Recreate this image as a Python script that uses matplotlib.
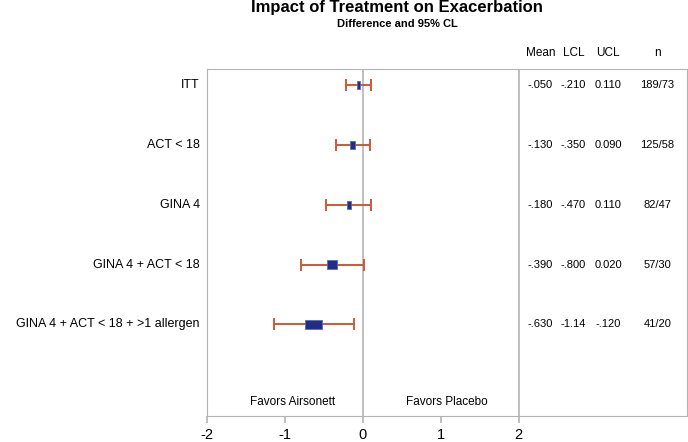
import numpy as np
import matplotlib
matplotlib.use("Agg")
import matplotlib.pyplot as plt
from matplotlib.patches import Rectangle

plt.rcParams['font.family'] = ['Liberation Sans', 'DejaVu Sans']
plt.rcParams['axes.unicode_minus'] = False

groups = ["ITT", "ACT < 18", "GINA 4", "GINA 4 + ACT < 18", "GINA 4 + ACT < 18 + >1 allergen"]
mean = [-0.05, -0.13, -0.18, -0.39, -0.63]
lcl = [-0.21, -0.35, -0.47, -0.80, -1.14]
ucl = [0.11, 0.09, 0.11, 0.02, -0.12]
n = ["189/73", "125/58", "82/47", "57/30", "41/20"]

# box widths in pixels as drawn in the original
box_px = [3, 5, 4, 10, 17]

def fmt(v):
    if v < 0 and v > -1:
        return "-" + ("%.3f" % -v)[1:]
    if v <= -1:
        return "%.2f" % v
    return "%.3f" % v

fig = plt.figure(figsize=(6.88, 4.42), dpi=100)
ax = fig.add_axes([207/688, 1-416/442, 480/688, 347/442])

xmin, xmax = -2, 2 + 168/77.8
ax.set_xlim(xmin, xmax)
ax.set_ylim(5.53, -0.27)
px_x = 77.8
px_y = 59.8

grey = '#b4b4b4'
for s in ax.spines.values():
    s.set_color(grey)
ax.axvline(0, color=grey, lw=1.2)
ax.axvline(2, color=grey, lw=1.2)

y = np.arange(len(groups))
ax.errorbar(mean, y, xerr=[np.array(mean)-np.array(lcl), np.array(ucl)-np.array(mean)],
            fmt='none', ecolor='#cc5a36', elinewidth=1.4, capsize=4.5, capthick=1.4, zorder=2)
for i in range(len(groups)):
    w = box_px[i] / px_x
    h = 8.5 / px_y
    ax.add_patch(Rectangle((mean[i]-w/2, y[i]-h/2), w, h, facecolor='#1f2f86',
                           edgecolor='#5a6ab8', lw=0.6, zorder=3))

ax.set_yticks([])
ax.set_xticks([-2, -1, 0, 1, 2])
ax.tick_params(axis='x', colors=grey, labelcolor='black', labelsize=10.5, length=5, width=1.2)

for i, g in enumerate(groups):
    ax.text(-2 - 7/px_x, y[i], g, ha='right', va='center', fontsize=9, clip_on=False)

cols = [2.28, 2.70, 3.15, 3.78]
heads = ["Mean", "LCL", "UCL", "n"]
for c, hd in zip(cols, heads):
    ax.text(c, -0.535, hd, ha='center', va='center', fontsize=8.5, clip_on=False)
for i in range(len(groups)):
    vals = [fmt(mean[i]), fmt(lcl[i]), fmt(ucl[i]), n[i]]
    for c, v in zip(cols, vals):
        ax.text(c, y[i], v, ha='center', va='center', fontsize=8)

ax.text(-0.9, 5.3, "Favors Airsonett", ha='center', va='center', fontsize=8.5)
ax.text(1.08, 5.3, "Favors Placebo", ha='center', va='center', fontsize=8.5)

fig.text(0.577, 0.982, "Impact of Treatment on Exacerbation", ha='center', va='center',
         fontsize=12, fontweight='bold')
fig.text(0.577, 0.945, "Difference and 95% CL", ha='center', va='center',
         fontsize=8, fontweight='bold')

plt.savefig("out.png", dpi=100)
